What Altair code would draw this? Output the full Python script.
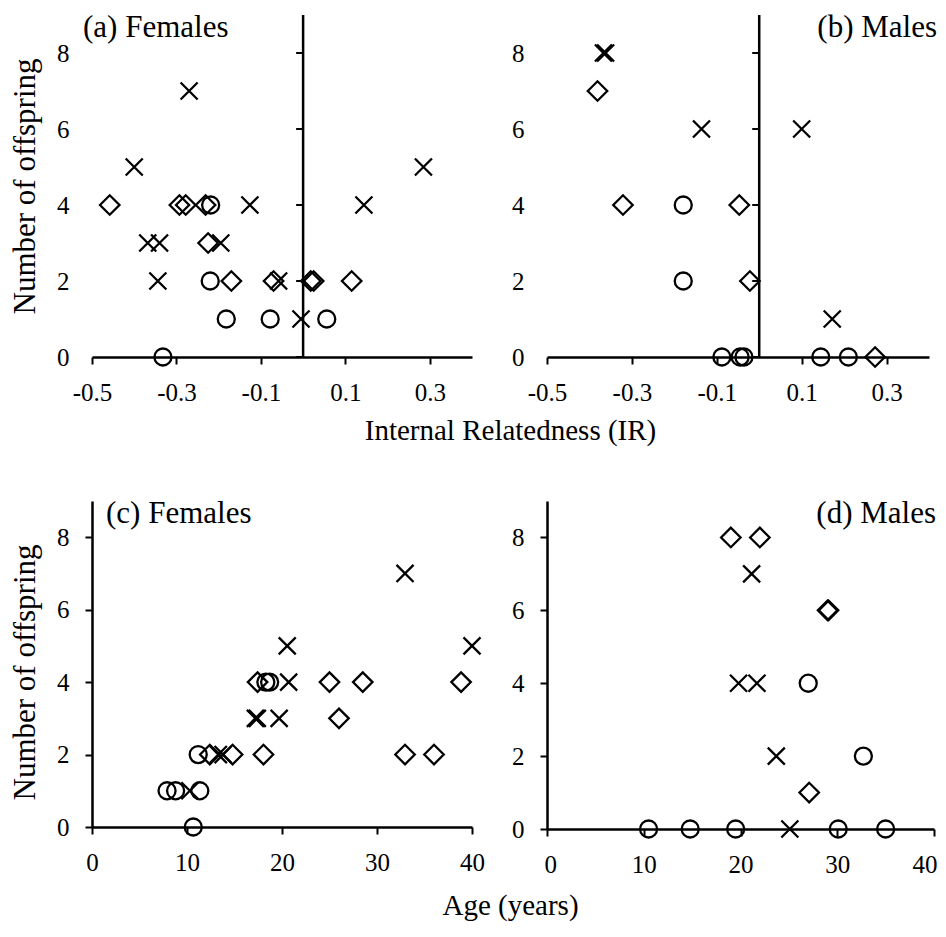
import altair as alt
import pandas as pd

FONT = "Liberation Serif"

# ---------------- data ----------------
# (a) Females: Internal Relatedness vs offspring
a_cross_x = [-0.27, -0.40, -0.126, 0.144, 0.285, -0.368, -0.340, -0.195, -0.344, -0.058, -0.005]
a_cross_y = [7, 5, 4, 4, 5, 3, 3, 3, 2, 2, 1]
a_diam_x = [-0.458, -0.293, -0.278, -0.231, -0.225, -0.170, -0.070, 0.018, 0.025, 0.115]
a_diam_y = [4, 4, 4, 4, 3, 2, 2, 2, 2, 2]
a_circ_x = [-0.219, -0.220, -0.182, -0.078, 0.056, -0.332]
a_circ_y = [4, 2, 1, 1, 1, 0]

# (b) Males: Internal Relatedness vs offspring
b_cross_x = [-0.367, -0.362, -0.136, 0.100, 0.172]
b_cross_y = [8, 8, 6, 6, 1]
b_diam_x = [-0.381, -0.321, -0.047, -0.022, 0.273]
b_diam_y = [7, 4, 4, 2, 0]
b_circ_x = [-0.179, -0.179, -0.088, -0.045, -0.036, 0.145, 0.210]
b_circ_y = [4, 2, 0, 0, 0, 0, 0]

# (c) Females: Age vs offspring
c_cross_x = [32.95, 20.55, 40.0, 20.7, 17.2, 17.4, 19.7, 13.3, 13.8, 10.3]
c_cross_y = [7, 5, 5, 4, 3, 3, 3, 2, 2, 1]
c_diam_x = [17.43, 25.0, 28.5, 38.85, 26.0, 12.4, 14.8, 18.05, 32.95, 36.0]
c_diam_y = [4, 4, 4, 4, 3, 2, 2, 2, 2, 2]
c_circ_x = [18.3, 18.7, 11.18, 7.9, 8.8, 11.35, 10.66]
c_circ_y = [4, 4, 2, 1, 1, 1, 0]

# (d) Males: Age vs offspring
d_cross_x = [21.15, 19.8, 21.7, 23.7, 25.1]
d_cross_y = [7, 4, 4, 2, 0]
d_diam_x = [19.0, 22.0, 29.0, 29.1, 27.1]
d_diam_y = [8, 8, 6, 6, 1]
d_circ_x = [27.0, 32.7, 10.5, 14.8, 19.5, 30.1, 35.0]
d_circ_y = [4, 2, 0, 0, 0, 0, 0]

IR_TICKS = [-0.5, -0.3, -0.1, 0.1, 0.3]
AGE_TICKS = [0, 10, 20, 30, 40]
Y_TICKS = [0, 2, 4, 6, 8]

# ---------------- helpers ----------------
CIRCLE = "circle"
DIAMOND = "M-1,0L0,-1L1,0L0,1Z"
XMARK = "M-1,-1L1,1M-1,1L1,-1"


def frame(cx, cy, dx, dy, ox, oy):
    rows = []
    for x, y in zip(cx, cy):
        rows.append({"x": x, "y": y, "m": "cross"})
    for x, y in zip(dx, dy):
        rows.append({"x": x, "y": y, "m": "diamond"})
    for x, y in zip(ox, oy):
        rows.append({"x": x, "y": y, "m": "circle"})
    return pd.DataFrame(rows)


def points(df, xs, ys):
    base = alt.Chart(df)
    o = base.transform_filter("datum.m == 'circle'").mark_point(
        shape=CIRCLE, size=290, filled=False, color="black", strokeWidth=2.3, opacity=1
    ).encode(x=xs, y=ys)
    d = base.transform_filter("datum.m == 'diamond'").mark_point(
        shape=DIAMOND, size=380, filled=False, color="black", strokeWidth=2.3, opacity=1
    ).encode(x=xs, y=ys)
    c = base.transform_filter("datum.m == 'cross'").mark_point(
        shape=XMARK, size=290, filled=False, color="black", strokeWidth=2.3, opacity=1
    ).encode(x=xs, y=ys)
    return [o, d, c]


ir_label = "datum.value < 0 ? '-' + format(abs(datum.value), '.1f') : format(datum.value, '.1f')"


def title_params(text, anchor, dx, offset):
    return alt.TitleParams(
        text, anchor=anchor, dx=dx, offset=offset, frame="group", font=FONT, fontSize=31,
        fontWeight="normal", color="black",
    )


YTITLE_KW = dict(titleX=-67, titleY=171, titleAlign="center", titleBaseline="middle",
                 titleAngle=270, titleFontSize=31)


def ir_panel(df, title, anchor, tdx, toff, ytitle, xtitle, width):
    xaxis_kw = dict(values=IR_TICKS, labelExpr=ir_label, labelPadding=16, labelFlush=False)
    if xtitle:
        xaxis_kw.update(title=xtitle, titleX=418, titleY=73, titleAlign="center",
                        titleBaseline="middle")
    else:
        xaxis_kw.update(title=None)
    yaxis_kw = dict(values=Y_TICKS, domain=False, ticks=False, labelPadding=23)
    if ytitle:
        yaxis_kw.update(title=ytitle, **YTITLE_KW)
    else:
        yaxis_kw.update(title=None)
    xs = alt.X("x:Q", scale=alt.Scale(domain=[-0.5, 0.4], nice=False, zero=False),
               axis=alt.Axis(**xaxis_kw))
    ys = alt.Y("y:Q", scale=alt.Scale(domain=[0, 9], nice=False), axis=alt.Axis(**yaxis_kw))
    yline = alt.Chart(pd.DataFrame({"x": [0], "y": [0], "y2": [9]})).mark_rule(
        color="black", strokeWidth=2.5
    ).encode(x=alt.X("x:Q"), y=alt.Y("y:Q"), y2="y2:Q")
    ystubs = alt.Chart(pd.DataFrame({"x": [0] * len(Y_TICKS), "y": Y_TICKS})).mark_tick(
        orient="horizontal", size=7, thickness=2, xOffset=-3.5, color="black", opacity=1
    ).encode(x=alt.X("x:Q"), y=alt.Y("y:Q"))
    layers = [yline, ystubs] + points(df, xs, ys)
    return alt.layer(*layers).properties(
        width=width, height=342, title=title_params(title, anchor, tdx, toff)
    )


def age_panel(df, title, anchor, tdx, toff, ytitle, xtitle, width, height, flush):
    xaxis_kw = dict(values=AGE_TICKS, labelPadding=16)
    if flush:
        xaxis_kw.update(labelFlush=True, labelFlushOffset=3)
    else:
        xaxis_kw.update(labelFlush=False)
    if xtitle:
        xaxis_kw.update(title=xtitle, titleX=418, titleY=78, titleAlign="center",
                        titleBaseline="middle")
    else:
        xaxis_kw.update(title=None)
    yaxis_kw = dict(values=Y_TICKS, labelPadding=16)
    if ytitle:
        yaxis_kw.update(title=ytitle, **YTITLE_KW)
    else:
        yaxis_kw.update(title=None)
    xs = alt.X("x:Q", scale=alt.Scale(domain=[0, 40], nice=False), axis=alt.Axis(**xaxis_kw))
    ys = alt.Y("y:Q", scale=alt.Scale(domain=[0, 9], nice=False), axis=alt.Axis(**yaxis_kw))
    return alt.layer(*points(df, xs, ys)).properties(
        width=width, height=height, title=title_params(title, anchor, tdx, toff)
    )


pa = ir_panel(frame(a_cross_x, a_cross_y, a_diam_x, a_diam_y, a_circ_x, a_circ_y),
              "(a) Females", "start", -9, -30, "Number of offspring", "Internal Relatedness (IR)", 380)
pb = ir_panel(frame(b_cross_x, b_cross_y, b_diam_x, b_diam_y, b_circ_x, b_circ_y),
              "(b) Males", "end", 8, -30, None, None, 382)
pc = age_panel(frame(c_cross_x, c_cross_y, c_diam_x, c_diam_y, c_circ_x, c_circ_y),
               "(c) Females", "start", 14, -29, "Number of offspring", "Age (years)", 380, 326, False)
pd_ = age_panel(frame(d_cross_x, d_cross_y, d_diam_x, d_diam_y, d_circ_x, d_circ_y),
                "(d) Males", "end", 2, -29, None, None, 387, 328, True)

chart = alt.concat(
    pa, pb, pc, pd_, columns=2, spacing=alt.RowColnumber(row=144, column=75), bounds="flush"
).properties(
    autosize=alt.AutoSizeParams(type="none"),
    padding={"left": 84, "top": 7, "right": 846, "bottom": 912},
).configure(background="white").configure_axis(
    labelFont=FONT, labelFontSize=25, labelColor="black",
    titleFont=FONT, titleFontSize=29, titleFontWeight="normal", titleColor="black",
    domainColor="black", domainWidth=2.5, tickColor="black", tickWidth=2, tickSize=7,
    grid=False,
).configure_view(stroke=None)

chart.save("out.html", embed_options={"renderer": "svg", "actions": False})
